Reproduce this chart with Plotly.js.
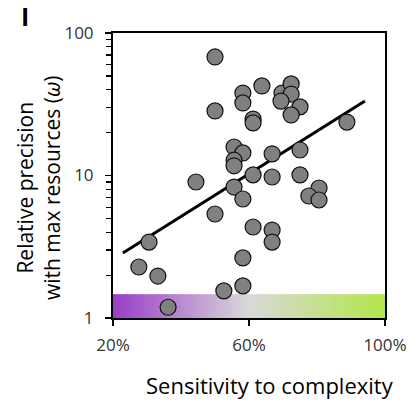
<!DOCTYPE html>
<html>
<head>
<meta charset="utf-8">
<script src="https://cdn.plot.ly/plotly-3.0.1.min.js"></script>
<style>html,body{margin:0;padding:0;background:#fff;}#chart{width:417px;height:407px;}</style>
</head>
<body>
<div id="chart"></div>
<script>
// Sensitivity to complexity (%)
const sensitivity = [50.0, 58.2, 63.8, 69.7, 72.4, 72.4, 69.4, 75.0, 58.2, 50.0,
  61.2, 61.2, 72.4, 88.8, 55.6, 58.2, 55.6, 55.6, 66.8, 75.0,
  61.2, 66.8, 75.0, 44.4, 55.6, 58.2, 80.6, 77.6, 80.6, 50.0,
  61.2, 66.8, 66.8, 30.6, 27.6, 33.2, 58.2, 58.2, 52.6, 36.2];
// Relative precision with max resources (omega)
const precision = [67.9, 37.9, 42.5, 37.9, 43.9, 37.3, 33.3, 30.3, 32.3, 28.4,
  24.9, 23.4, 26.6, 23.7, 15.85, 14.4, 12.8, 11.7, 14.2, 15.1,
  10.1, 9.76, 10.1, 9.0, 8.3, 6.84, 8.17, 7.18, 6.73, 5.37,
  4.35, 4.14, 3.41, 3.41, 2.28, 1.97, 2.64, 1.68, 1.55, 1.19];
// Fitted trend line end points
const fitX = [22.9, 94.1];
const fitY = [2.86, 33.3];
// Axis ticks
const xTicks = [20, 60, 100];
const xTickText = ['20%', '60%', '100%'];
const yTicks = [1, 10, 100];
const yTickText = ['1', '10', '100'];
// Gradient band (x edges from 20% to 100%, y edges)
const bandY = [1, 1.47];
const bandX = [];
const bandZ = [[]];
for (let v = 20; v <= 100; v += 1) bandX.push(v);
for (let i = 0; i < bandX.length - 1; i++) bandZ[0].push((bandX[i] + bandX[i + 1]) / 2);

const traces = [
  {
    type: 'heatmap', x: bandX, y: bandY, z: bandZ,
    colorscale: [[0, '#9a3cc8'], [0.5, '#d9d9d9'], [1, '#b3e64a']],
    zmin: 20, zmax: 100, showscale: false, hoverinfo: 'skip'
  },
  {
    type: 'scatter', mode: 'lines', x: fitX, y: fitY,
    line: {color: '#000', width: 3}, hoverinfo: 'skip'
  },
  {
    type: 'scatter', mode: 'markers', x: sensitivity, y: precision,
    marker: {size: 16, color: '#808080', line: {color: '#111', width: 1.2}}
  }
];

const fontFam = '"Open Sans", "Noto Sans", sans-serif';
const layout = {
  width: 417, height: 407,
  margin: {l: 113, r: 32, t: 33, b: 89},
  paper_bgcolor: '#fff', plot_bgcolor: '#fff',
  showlegend: false,
  font: {family: fontFam, color: '#333', size: 17},
  xaxis: {
    range: [20, 100], tickvals: xTicks, ticktext: xTickText,
    showgrid: false, zeroline: false,
    showline: true, linecolor: '#000', linewidth: 2, mirror: true,
    ticks: 'outside', ticklen: 6, tickwidth: 1.5, tickcolor: '#000',
    ticklabelstandoff: 5,
    tickfont: {size: 17, color: '#333', family: fontFam}
  },
  yaxis: {
    type: 'log', range: [0, 2], tickvals: yTicks, ticktext: yTickText,
    showgrid: false, zeroline: false,
    showline: true, linecolor: '#000', linewidth: 2, mirror: true,
    ticks: 'outside', ticklen: 6, tickwidth: 1.5, tickcolor: '#000',
    ticklabelstandoff: 8,
    minor: {ticks: 'outside', ticklen: 5, tickwidth: 1.2, tickcolor: '#000', dtick: 'D1', showgrid: false},
    tickfont: {size: 17, color: '#333', family: fontFam}
  },
  annotations: [
    {text: 'Sensitivity to complexity', xref: 'paper', yref: 'paper', x: 0.577, y: -0.235,
     xanchor: 'center', yanchor: 'middle', showarrow: false,
     font: {size: 22, color: '#000', family: fontFam}},
    {text: 'Relative precision<br>with max resources (<i>ω</i>)', xref: 'paper', yref: 'paper',
     x: -0.2757, y: 0.456, xanchor: 'center', yanchor: 'middle', textangle: -90, showarrow: false,
     font: {size: 21, color: '#000', family: fontFam}},
    {text: '<b>I</b>', xref: 'paper', yref: 'paper', x: -0.3235, y: 1.06,
     xanchor: 'center', yanchor: 'middle', showarrow: false,
     font: {size: 25, color: '#000', family: fontFam}}
  ]
};

Plotly.newPlot('chart', traces, layout, {displayModeBar: false, staticPlot: true});
</script>
</body>
</html>
